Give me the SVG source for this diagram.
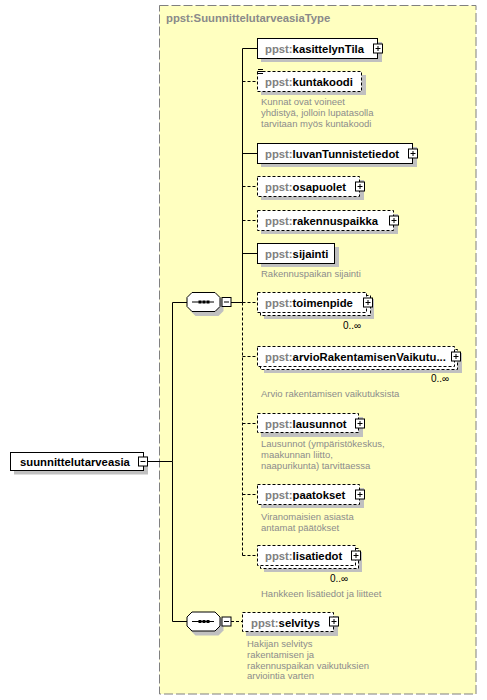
<svg xmlns="http://www.w3.org/2000/svg" xmlns:xlink="http://www.w3.org/1999/xlink" width="487" height="700" viewBox="0 0 487 700">
<style>
.box{fill:#fff;stroke:#000;stroke-width:1}
.dbox{fill:#fff;stroke:#000;stroke-width:1;stroke-dasharray:3,2}
.sh{fill:#c0c0c0}
.name{font-family:"Liberation Sans",Arial,sans-serif;font-weight:bold;font-size:11.3px;fill:#000}
.pre{fill:#808080}
.desc{font-family:"Liberation Sans",Arial,sans-serif;font-size:9.5px;fill:#8c8c8c}
.occ{font-family:"Liberation Sans",Arial,sans-serif;font-size:10px;fill:#000}
.ln{stroke:#000;stroke-width:1;fill:none}
.dl{stroke:#000;stroke-width:1;fill:none;stroke-dasharray:3,2}
</style>
<defs>
<g id="plus"><rect x="-4.5" y="-4.5" width="9" height="9" fill="#fff" stroke="#000"/><path d="M-2.5,0H2.5M0,-2.5V2.5" stroke="#000"/></g>
<g id="minus"><rect x="-4.5" y="-4.5" width="9" height="9" fill="#fff" stroke="#000"/><path d="M-2.5,0H2.5" stroke="#000"/></g>
<g id="seq">
<polygon points="9,4 32,4 37,9 37,19 32,24 9,24 4,19 4,9" fill="#c0c0c0"/>
<polygon points="5.5,0.5 28.5,0.5 33.5,5.5 33.5,14.5 28.5,19.5 5.5,19.5 0.5,14.5 0.5,5.5" fill="#fff" stroke="#000"/>
<path d="M5.5,10H27.5" stroke="#000"/>
<rect x="12" y="8.5" width="3" height="3" fill="#000"/><rect x="16" y="8.5" width="3" height="3" fill="#000"/><rect x="20" y="8.5" width="3" height="3" fill="#000"/>
</g>
</defs>

<g id="type">
<rect x="159.5" y="5.5" width="316.5" height="688.5" fill="#ffffc0" stroke="#808080" stroke-dasharray="9,3"/>
<text x="166" y="22" class="name" style="fill:#8a8a8a">ppst:SuunnittelutarveasiaType</text>
</g>

<g id="connectors">
<path class="ln" d="M148,461.5H172.5V302.5H187"/>
<path class="ln" d="M172.5,461.5V621.5H187"/>
<path class="ln" d="M231,302.5H242.5"/>
<path class="ln" d="M242.5,48.5V302.5"/>
<path class="dl" d="M242.5,302.5V555.5"/>
<path class="ln" d="M242.5,48.5H257"/>
<path class="dl" d="M242.5,81.5H257"/>
<path class="ln" d="M242.5,153.5H257"/>
<path class="dl" d="M242.5,186.5H257"/>
<path class="dl" d="M242.5,220.5H257"/>
<path class="ln" d="M242.5,253.5H257"/>
<path class="dl" d="M242.5,302.5H257"/>
<path class="dl" d="M242.5,356.5H257"/>
<path class="dl" d="M242.5,423.5H257"/>
<path class="dl" d="M242.5,494.5H257"/>
<path class="dl" d="M242.5,555.5H257"/>
<path class="dl" d="M231,621.5H242"/>
</g>

<g id="suunnittelutarveasia">
<rect class="sh" x="14" y="456.5" width="134" height="18"/>
<rect class="box" x="10.5" y="452.5" width="133" height="18"/>
<text x="20" y="465.5" class="name">suunnittelutarveasia</text>
<use xlink:href="#minus" x="143" y="461.5"/>
</g>

<g id="sequence1">
<use xlink:href="#seq" x="186.5" y="292"/>
<use xlink:href="#minus" x="226.5" y="302"/>
</g>

<g id="sequence2">
<use xlink:href="#seq" x="186.5" y="611.5"/>
<use xlink:href="#minus" x="226.5" y="621.5"/>
</g>

<g id="kasittelynTila">
<rect class="sh" x="261" y="42" width="121" height="20"/>
<rect class="box" x="257.5" y="38.5" width="120" height="20"/>
<text x="265" y="52.5" class="name"><tspan class="pre">ppst:</tspan>kasittelynTila</text>
<use xlink:href="#plus" x="378" y="48.5"/>
</g>

<g id="kuntakoodi">
<rect class="sh" x="261" y="75" width="105" height="20"/>
<rect class="dbox" x="257.5" y="71.5" width="104" height="20"/>
<path d="M258,69.5H263M258,71.5H263M258,73.5H263" stroke="#000"/>
<text x="265" y="85.5" class="name"><tspan class="pre">ppst:</tspan>kuntakoodi</text>
<text class="desc"><tspan x="261" y="105">Kunnat ovat voineet</tspan><tspan x="261" y="116">yhdistyä, jolloin lupatasolla</tspan><tspan x="261" y="127">tarvitaan myös kuntakoodi</tspan></text>
</g>

<g id="luvanTunnistetiedot">
<rect class="sh" x="261" y="147" width="156" height="20"/>
<rect class="box" x="257.5" y="143.5" width="155" height="20"/>
<text x="265" y="157.5" class="name"><tspan class="pre">ppst:</tspan>luvanTunnistetiedot</text>
<use xlink:href="#plus" x="413" y="153.5"/>
</g>

<g id="osapuolet">
<rect class="sh" x="261" y="180" width="103" height="20"/>
<rect class="dbox" x="257.5" y="176.5" width="102" height="20"/>
<text x="265" y="190.5" class="name"><tspan class="pre">ppst:</tspan>osapuolet</text>
<use xlink:href="#plus" x="360" y="186.5"/>
</g>

<g id="rakennuspaikka">
<rect class="sh" x="261" y="214" width="137" height="20"/>
<rect class="dbox" x="257.5" y="210.5" width="136" height="20"/>
<text x="265" y="224.5" class="name"><tspan class="pre">ppst:</tspan>rakennuspaikka</text>
<use xlink:href="#plus" x="394" y="220.5"/>
</g>

<g id="sijainti">
<rect class="sh" x="261" y="247" width="78" height="20"/>
<rect class="box" x="257.5" y="243.5" width="77" height="20"/>
<text x="265" y="257.5" class="name"><tspan class="pre">ppst:</tspan>sijainti</text>
<text x="261" y="277" class="desc">Rakennuspaikan sijainti</text>
</g>

<g id="toimenpide">
<rect class="sh" x="264" y="299" width="110" height="20"/>
<rect class="dbox" x="260.5" y="295.5" width="110" height="20"/>
<rect class="dbox" x="257.5" y="292.5" width="109" height="20"/>
<text x="265" y="306.5" class="name"><tspan class="pre">ppst:</tspan>toimenpide</text>
<use xlink:href="#plus" x="368" y="302.5"/>
<text x="343" y="329" class="occ">0..∞</text>
</g>

<g id="arvioRakentamisenVaikutuksista">
<rect class="sh" x="264" y="353" width="198" height="20"/>
<rect class="dbox" x="260.5" y="349.5" width="197" height="20"/>
<rect class="dbox" x="257.5" y="346.5" width="197" height="20"/>
<text x="265" y="360.5" class="name"><tspan class="pre">ppst:</tspan>arvioRakentamisenVaikutu...</text>
<use xlink:href="#plus" x="456" y="356.5"/>
<text x="431" y="382" class="occ">0..∞</text>
<text x="261" y="397" class="desc">Arvio rakentamisen vaikutuksista</text>
</g>

<g id="lausunnot">
<rect class="sh" x="261" y="417" width="102" height="20"/>
<rect class="dbox" x="257.5" y="413.5" width="101" height="19"/>
<text x="265" y="427.5" class="name"><tspan class="pre">ppst:</tspan>lausunnot</text>
<use xlink:href="#plus" x="360" y="423.5"/>
<text class="desc"><tspan x="261" y="446.5">Lausunnot (ympäristökeskus,</tspan><tspan x="261" y="457.5">maakunnan liitto,</tspan><tspan x="261" y="468.5">naapurikunta) tarvittaessa</tspan></text>
</g>

<g id="paatokset">
<rect class="sh" x="261" y="488" width="103" height="20"/>
<rect class="dbox" x="257.5" y="484.5" width="102" height="20"/>
<text x="265" y="498.5" class="name"><tspan class="pre">ppst:</tspan>paatokset</text>
<use xlink:href="#plus" x="360" y="494.5"/>
<text class="desc"><tspan x="261" y="519.5">Viranomaisien asiasta</tspan><tspan x="261" y="530.5">antamat päätökset</tspan></text>
</g>

<g id="lisatiedot">
<rect class="sh" x="264" y="552" width="98" height="20"/>
<rect class="dbox" x="260.5" y="548.5" width="98" height="20"/>
<rect class="dbox" x="257.5" y="545.5" width="98" height="20"/>
<text x="265" y="559.5" class="name"><tspan class="pre">ppst:</tspan>lisatiedot</text>
<use xlink:href="#plus" x="356" y="555.5"/>
<text x="330" y="582" class="occ">0..∞</text>
<text x="261" y="597" class="desc">Hankkeen lisätiedot ja liitteet</text>
</g>

<g id="selvitys">
<rect class="sh" x="246" y="616" width="92" height="20"/>
<rect class="dbox" x="242.5" y="612.5" width="91" height="19"/>
<text x="251" y="626.5" class="name"><tspan class="pre">ppst:</tspan>selvitys</text>
<use xlink:href="#plus" x="334" y="621.5"/>
<text class="desc"><tspan x="247" y="647">Hakijan selvitys</tspan><tspan x="247" y="658">rakentamisen ja</tspan><tspan x="247" y="668.5">rakennuspaikan vaikutuksien</tspan><tspan x="247" y="679">arviointia varten</tspan></text>
</g>
</svg>
